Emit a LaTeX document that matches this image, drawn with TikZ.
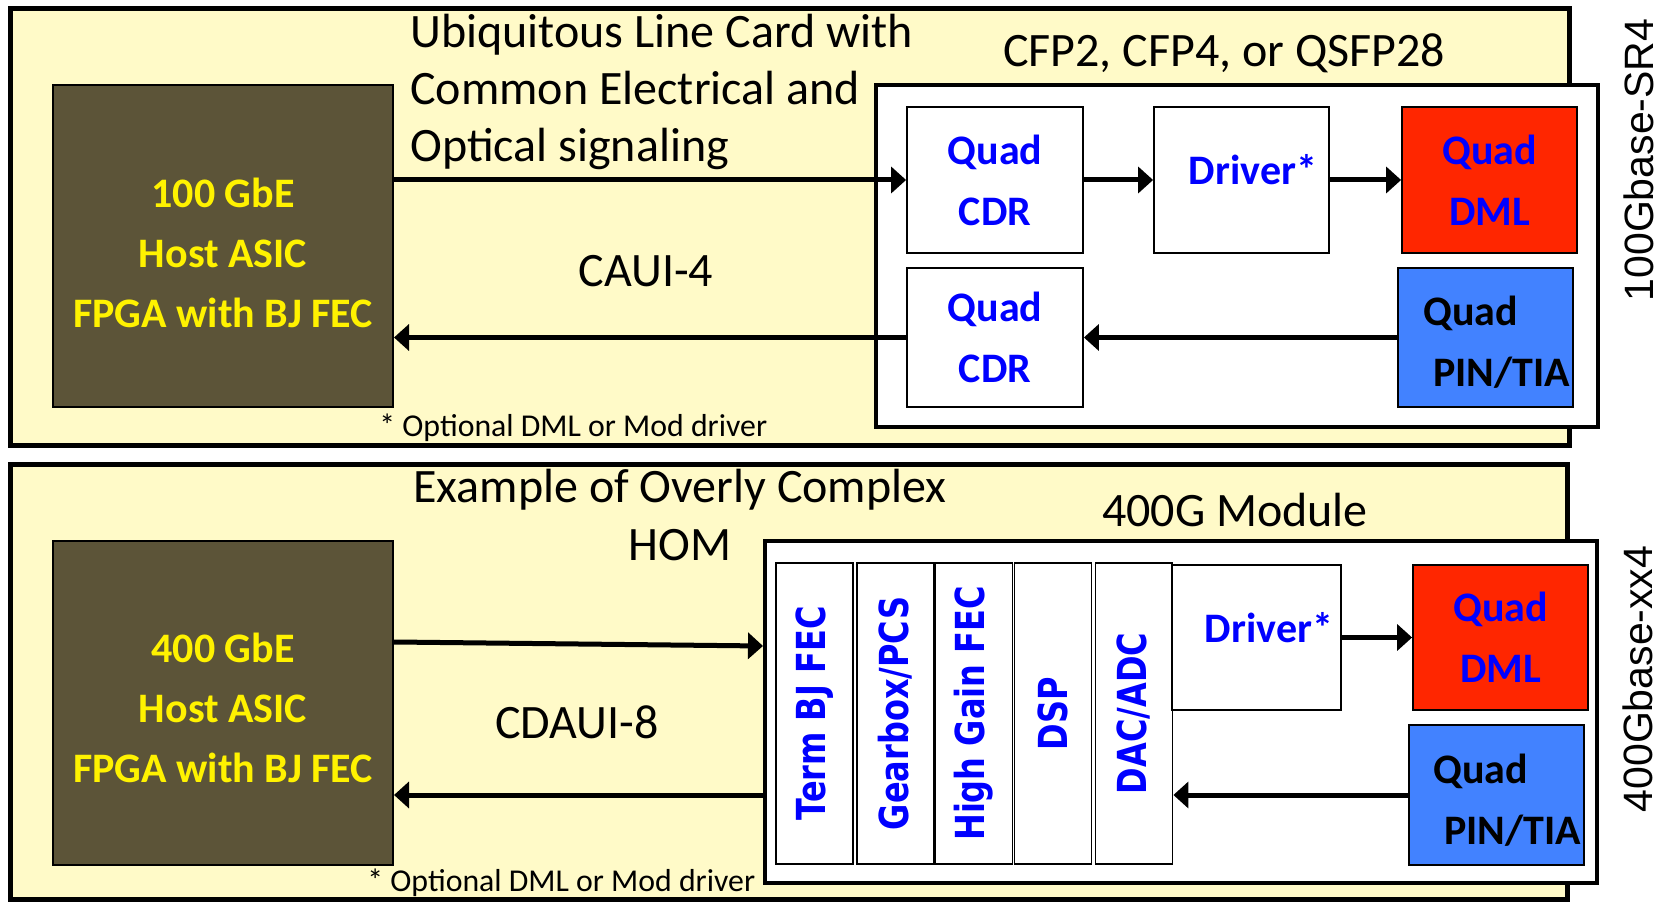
\documentclass[tikz,border=0pt]{standalone}
\usepackage{fontspec}
\setmainfont{Carlito}
\newfontfamily\rotfont{DejaVu Sans}
\newfontfamily\sidefont{Liberation Sans}
\usetikzlibrary{arrows.meta}
\definecolor{cardbg}{RGB}{255,250,200}
\definecolor{hostbg}{RGB}{92,84,56}
\definecolor{dmlred}{RGB}{255,38,0}
\definecolor{pinblue}{RGB}{66,130,255}
\definecolor{qblue}{RGB}{0,0,255}
\newcommand{\vlab}[1]{\rotatebox{90}{\scalebox{0.8}[1]{#1}}}

\begin{document}
\begin{tikzpicture}[x=0.5pt,y=-0.5pt,
        card/.style={draw=black, line width=2.5pt, fill=cardbg},
        hostbox/.style={draw=black, line width=1pt, fill=hostbg, inner sep=0pt},
        hosttxt/.style={text=yellow, align=center, inner sep=0pt, font={\bfseries\fontsize{21}{30}\selectfont}},
        modbox/.style={draw=black, line width=2pt, fill=white, inner sep=0pt},
        blk/.style={draw=black, line width=0.9pt, fill=white, inner sep=0pt, align=center, text=qblue, font={\bfseries\fontsize{21}{30.5}\selectfont}},
        vblk/.style={blk, font={\rotfont\bfseries\fontsize{20}{24}\selectfont}, minimum width=38.5pt, minimum height=150.5pt},
        drvtxt/.style={anchor=base, inner sep=0pt, text=qblue, font={\bfseries\fontsize{21}{30.5}\selectfont}},
        pintxt/.style={anchor=west, align=left, inner sep=0pt, font={\bfseries\fontsize{21}{30.5}\selectfont}},
        ttl/.style={inner sep=0pt, font={\fontsize{24}{28.5}\selectfont}},
        note/.style={inner sep=0pt, anchor=base west, font={\fontsize{15.9}{18}\selectfont}},
        side/.style={inner sep=0pt, rotate=90, font={\sidefont\fontsize{20.5}{24}\selectfont}},
        arr/.style={line width=2.5pt, -{Triangle[length=7.5pt,width=13pt]}}]
        \useasboundingbox (0,0) rectangle (1666,903);

        % 100G line card
        \draw[card] (10,9) rectangle (1569,446);
        \node[hostbox, minimum width=170pt, minimum height=161pt] (host1) at (223,246) {};
        \node[hosttxt] (host1txt) at (223,253) {100 GbE\\Host ASIC\\FPGA with BJ FEC};
        \node[ttl, anchor=west, align=left] (ttl1) at (410,92) {Ubiquitous Line Card with\\Common Electrical and\\Optical signaling};
        \node[ttl, anchor=base] (caui) at (646,287) {CAUI-4};
        \node[note] (note1) at (379,437) {* Optional DML or Mod driver};
        \node[ttl, anchor=base] (cfp) at (1224,67) {CFP2, CFP4, or QSFP28};
        \node[modbox, minimum width=361pt, minimum height=171pt] (mod1) at (1237,256) {};
        \node[blk, minimum width=88pt, minimum height=73pt] (cdr1) at (995,180) {Quad\\CDR};
        \node[blk, minimum width=87.5pt, minimum height=73pt] (drv1) at (1241.5,180) {};
        \node[drvtxt] (drv1txt) at (1253,185) {Driver*};
        \node[blk, fill=dmlred, minimum width=87.5pt, minimum height=73pt] (dml1) at (1489.5,180) {Quad\\DML};
        \node[blk, minimum width=88pt, minimum height=69.5pt] (cdr2) at (995,337.5) {Quad\\CDR};
        \node[blk, fill=pinblue, minimum width=87.5pt, minimum height=69.5pt] (pin1) at (1485.5,337.5) {};
        \node[pintxt] (pin1txt) at (1423,342) {Quad\\\hspace*{5pt}PIN/TIA};
        \node[side] (side1) at (1639,160) {100Gbase-SR4};
        \draw[arr] (host1.east |- cdr1.west) -- (cdr1.west);
        \draw[arr] (cdr1) -- (drv1);
        \draw[arr] (drv1) -- (dml1);
        \draw[arr] (pin1.west) -- (cdr2.east);
        \draw[arr] (cdr2.west) -- (host1.east |- cdr2.west);

        % 400G line card
        \draw[card] (10,465) rectangle (1567,899);
        \node[hostbox, minimum width=170pt, minimum height=162pt] (host2) at (223,703) {};
        \node[hosttxt] (host2txt) at (223,708) {400 GbE\\Host ASIC\\FPGA with BJ FEC};
        \node[ttl, align=center] (ttl2) at (680,515) {Example of Overly Complex\\HOM};
        \node[ttl, anchor=base] (cdaui) at (577,738) {CDAUI-8};
        \node[note] (note2) at (367,891) {* Optional DML or Mod driver};
        \node[ttl, anchor=base] (mod400) at (1235,527) {400G Module};
        \node[modbox, minimum width=416pt, minimum height=171pt] (mod2) at (1181,712) {};
        \node[vblk] (bjfec) at (814.5,713.5) {\vlab{Term BJ FEC}};
        \node[vblk] (gbox) at (895.5,713.5) {\vlab{Gearbox/PCS}};
        \node[vblk] (hgfec) at (974,713.5) {\vlab{High Gain FEC}};
        \node[vblk] (dsp) at (1053,713.5) {\vlab{DSP}};
        \node[vblk] (dac) at (1134,713.5) {\vlab{DAC/ADC}};
        \node[blk, minimum width=84.5pt, minimum height=72.5pt] (drv2) at (1256.5,637.5) {};
        \node[drvtxt] (drv2txt) at (1269,642) {Driver*};
        \node[blk, fill=dmlred, minimum width=87.5pt, minimum height=72.5pt] (dml2) at (1500.5,637.5) {Quad\\DML};
        \node[blk, fill=pinblue, minimum width=87.5pt, minimum height=70pt] (pin2) at (1496.5,795) {};
        \node[pintxt] (pin2txt) at (1433,800) {Quad\\\hspace*{5.5pt}PIN/TIA};
        \node[side] (side2) at (1638,679) {400Gbase-xx4};
        \draw[arr] ([yshift=30.5pt]host2.east) -- ([yshift=33pt]mod2.west);
        \draw[arr] ([yshift=-41.5pt]mod2.west) -- ([yshift=-46pt]host2.east);
        \draw[arr] (drv2) -- (dml2);
        \draw[arr] (pin2.west) -- (dac.east |- pin2.west);
\end{tikzpicture}
\end{document}
